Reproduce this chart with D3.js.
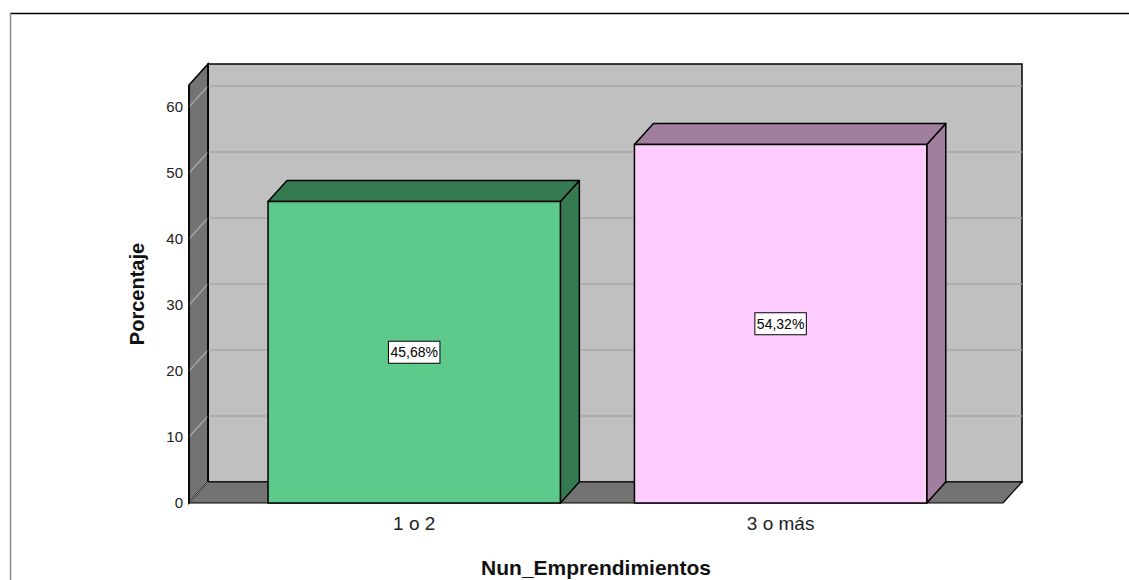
<!DOCTYPE html>
<html><head><meta charset="utf-8">
<script src="https://cdn.jsdelivr.net/npm/d3@7"></script>
<style>body{margin:0;background:#fff;}svg{display:block;font-family:"Liberation Sans",Arial,sans-serif;}</style>
</head><body>
<svg id="c" width="1129" height="580"></svg>
<script>
const categories = ["1 o 2", "3 o más"];
const values = [45.68, 54.32];
const valueLabels = ["45,68%", "54,32%"];
const yTicks = [0, 10, 20, 30, 40, 50, 60];
const frontColors = ["#5DC98B", "#FFCCFF"];
const darkColors = ["#367A52", "#A07E9E"];

const svg = d3.select("#c");
const dx = 19, dy = -21;
const x0 = 189, x1 = 1003, yBottom = 503, yTopFront = 85;

const y = d3.scaleLinear().domain([0, 60]).range([yBottom, 107]);
const x = d3.scaleBand().domain(categories).range([231.4, 963.4]).paddingInner(0.2022).paddingOuter(0.1);

// outer frame
svg.append("line").attr("x1", 10).attr("x2", 1129).attr("y1", 13.5).attr("y2", 13.5).attr("stroke", "#000").attr("stroke-width", 1.5);
svg.append("line").attr("x1", 10.5).attr("x2", 10.5).attr("y1", 13).attr("y2", 580).attr("stroke", "#888").attr("stroke-width", 1.5);

const g = svg.append("g");
const line = d3.line();
// back wall
g.append("path").attr("d", line([[x0+dx, yTopFront+dy],[x1+dx, yTopFront+dy],[x1+dx, yBottom+dy],[x0+dx, yBottom+dy]]) + "Z")
  .attr("fill", "#C0C0C0").attr("stroke", "#000").attr("stroke-width", 1.5);
// left wall
g.append("path").attr("d", line([[x0, yTopFront],[x0+dx, yTopFront+dy],[x0+dx, yBottom+dy],[x0, yBottom]]) + "Z")
  .attr("fill", "#737373").attr("stroke", "#000").attr("stroke-width", 1.5);
// floor
g.append("path").attr("d", line([[x0, yBottom],[x0+dx, yBottom+dy],[x1+dx, yBottom+dy],[x1, yBottom]]) + "Z")
  .attr("fill", "#737373").attr("stroke", "#000").attr("stroke-width", 1.2);

// gridlines
const grid = g.append("g");
yTicks.filter(t => t > 0).forEach(t => {
  grid.append("line").attr("x1", x0+dx).attr("x2", x1+dx).attr("y1", y(t)+dy).attr("y2", y(t)+dy)
    .attr("stroke", "#A9A9A9").attr("stroke-width", 1.5);
  grid.append("line").attr("x1", x0).attr("x2", x0+dx).attr("y1", y(t)).attr("y2", y(t)+dy)
    .attr("stroke", "#A9A9A9").attr("stroke-width", 1.2);
});
grid.append("line").attr("x1", x0).attr("x2", x0+dx).attr("y1", y(0)).attr("y2", y(0)+dy)
  .attr("stroke", "#A9A9A9").attr("stroke-width", 1);
g.append("line").attr("x1", x0).attr("x2", x0).attr("y1", yTopFront).attr("y2", yBottom).attr("stroke", "#000").attr("stroke-width", 1.5);
g.append("line").attr("x1", x0+dx).attr("x2", x0+dx).attr("y1", yTopFront+dy).attr("y2", yBottom+dy).attr("stroke", "#000").attr("stroke-width", 1.5);

// bars
const bars = g.selectAll("g.bar").data(categories).join("g").attr("class", "bar");
bars.each(function(c, i) {
  const b = d3.select(this);
  const xl = x(c), xr = x(c) + x.bandwidth(), yt = y(values[i]);
  b.append("path").attr("d", line([[xr, yt],[xr+dx, yt+dy],[xr+dx, yBottom+dy],[xr, yBottom]]) + "Z")
    .attr("fill", darkColors[i]).attr("stroke", "#000").attr("stroke-width", 1.5).attr("stroke-linejoin", "round");
  b.append("path").attr("d", line([[xl, yt],[xl+dx, yt+dy],[xr+dx, yt+dy],[xr, yt]]) + "Z")
    .attr("fill", darkColors[i]).attr("stroke", "#000").attr("stroke-width", 1.5).attr("stroke-linejoin", "round");
  b.append("rect").attr("x", xl).attr("y", yt).attr("width", xr - xl).attr("height", yBottom - yt)
    .attr("fill", frontColors[i]).attr("stroke", "#000").attr("stroke-width", 1.5);
  const cx = (xl + xr) / 2, cy = (yt + yBottom) / 2;
  const t = b.append("text").attr("x", cx).attr("y", cy + 5).attr("text-anchor", "middle")
    .attr("font-size", 14).attr("fill", "#000").text(valueLabels[i]);
  const bb = t.node().getBBox();
  b.insert("rect", "text").attr("x", bb.x - 2).attr("y", cy - 11).attr("width", bb.width + 4).attr("height", 22)
    .attr("fill", "#fff").attr("stroke", "#000").attr("stroke-width", 1);
});

// y axis labels
const yAxis = svg.append("g").attr("transform", `translate(${x0},0)`)
  .call(d3.axisLeft(y).tickValues(yTicks).tickSize(0).tickPadding(6));
yAxis.select(".domain").remove();
yAxis.selectAll("text").attr("font-size", 15).attr("fill", "#222").attr("font-family", "Liberation Sans, Arial, sans-serif");

// x axis labels
const xAxis = svg.append("g").attr("transform", `translate(0,${yBottom})`)
  .call(d3.axisBottom(x).tickSize(0).tickPadding(14));
xAxis.select(".domain").remove();
xAxis.selectAll("text").attr("font-size", 19).attr("fill", "#222").attr("font-family", "Liberation Sans, Arial, sans-serif");

// titles
svg.append("text").attr("x", 596).attr("y", 575).attr("text-anchor", "middle")
  .attr("font-size", 21).attr("font-weight", "bold").attr("fill", "#111").text("Nun_Emprendimientos");
svg.append("text").attr("transform", "translate(144,294) rotate(-90)").attr("text-anchor", "middle")
  .attr("font-size", 20).attr("font-weight", "bold").attr("fill", "#111").text("Porcentaje");
</script>
</body></html>
